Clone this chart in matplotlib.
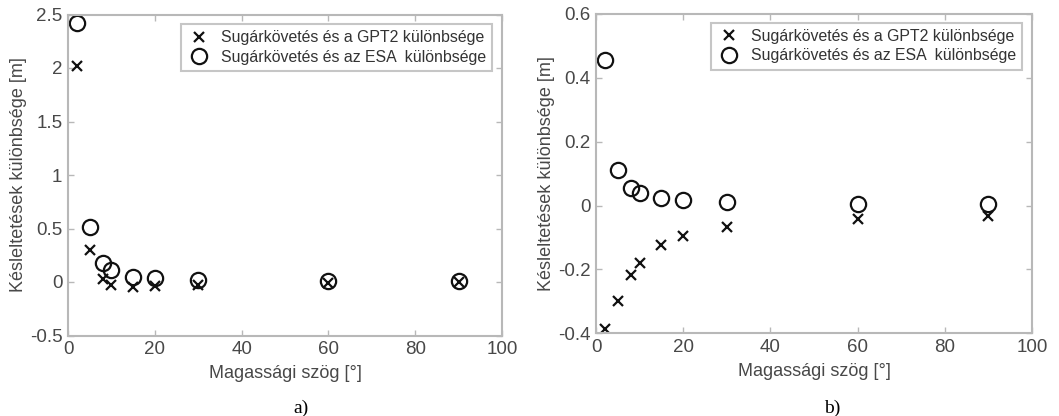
import matplotlib
matplotlib.use("Agg")
import matplotlib.pyplot as plt

plt.rcParams['font.family'] = ['Liberation Sans', 'DejaVu Sans']

elev = [2, 5, 8, 10, 15, 20, 30, 60, 90]
a_gpt2 = [2.02, 0.296, 0.028, -0.025, -0.047, -0.040, -0.030, -0.010, -0.003]
a_esa = [2.42, 0.514, 0.178, 0.115, 0.047, 0.034, 0.022, 0.006, 0.006]
b_gpt2 = [-0.388, -0.300, -0.216, -0.179, -0.123, -0.094, -0.066, -0.042, -0.034]
b_esa = [0.455, 0.110, 0.054, 0.038, 0.023, 0.018, 0.012, 0.006, 0.006]

lbl_gpt2 = "Sugárkövetés és a GPT2 különbsége"
lbl_esa = "Sugárkövetés és az ESA  különbsége"
xlabel = "Magassági szög [°]"
ylabel = "Késleltetések különbsége [m]"

fig = plt.figure(figsize=(10.59, 4.16), dpi=100)
ax1 = fig.add_axes([68/1059, 1-335.5/416, 434/1059, 321/416])
ax2 = fig.add_axes([596/1059, 1-333.3/416, 436/1059, 319.3/416])

spine_c = '#b8b8b8'
text_c = '#484848'

def style(ax, yticks, ylim):
    ax.set_xlim(0, 100)
    ax.set_ylim(*ylim)
    ax.set_xticks([0, 20, 40, 60, 80, 100])
    ax.set_yticks(yticks)
    for s in ax.spines.values():
        s.set_color(spine_c)
        s.set_linewidth(1.5)
    ax.tick_params(direction='in', length=4, width=1, color=spine_c,
                   top=True, right=True, labelsize=13.5, labelcolor=text_c, pad=4)
    ax.set_xlabel(xlabel, fontsize=13, color=text_c, labelpad=5)
    ax.set_ylabel(ylabel, fontsize=13, color=text_c, labelpad=2)

ax1.plot(elev, a_gpt2, linestyle='none', marker='x', ms=7, mew=1.6, color='#111111', label=lbl_gpt2)
ax1.plot(elev, a_esa, linestyle='none', marker='o', ms=11, mew=1.6, mfc='none', mec='#111111', label=lbl_esa)
style(ax1, [-0.5, 0, 0.5, 1, 1.5, 2, 2.5], (-0.5, 2.5))
ax1.set_yticklabels(['-0.5', '0', '0.5', '1', '1.5', '2', '2.5'])

ax2.plot(elev, b_gpt2, linestyle='none', marker='x', ms=7, mew=1.6, color='#111111', label=lbl_gpt2)
ax2.plot(elev, b_esa, linestyle='none', marker='o', ms=11, mew=1.6, mfc='none', mec='#111111', label=lbl_esa)
style(ax2, [-0.4, -0.2, 0, 0.2, 0.4, 0.6], (-0.4, 0.6))
ax2.set_yticklabels(['-0.4', '-0.2', '0', '0.2', '0.4', '0.6'])

for ax, anchor in ((ax1, (0.977, 0.970)), (ax2, (0.977, 0.973))):
    leg = ax.legend(loc='upper right', bbox_to_anchor=anchor, borderaxespad=0,
                    fontsize=11.4, frameon=True, fancybox=False, handletextpad=0.6,
                    handlelength=1.5, borderpad=0.4, labelspacing=0.28)
    leg.get_frame().set_edgecolor(spine_c)
    leg.get_frame().set_linewidth(1.5)
    for t in leg.get_texts():
        t.set_color('#333333')

fig.text(301/1059, 1-408/416, 'a)', fontsize=14, family=['Liberation Serif'], ha='center', va='center')
fig.text(832/1059, 1-408/416, 'b)', fontsize=14, family=['Liberation Serif'], ha='center', va='center')

fig.savefig('out.png', dpi=100)
